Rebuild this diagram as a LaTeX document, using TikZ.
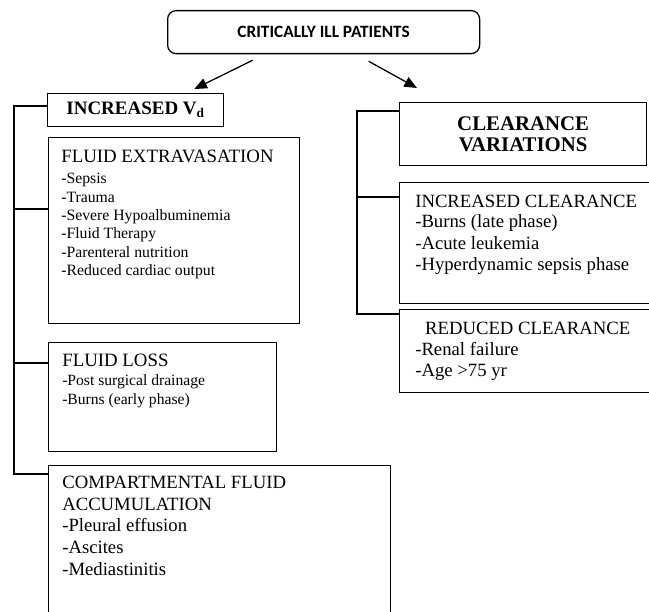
\documentclass[tikz,border=0pt]{standalone}
\usepackage{fontspec}
\setmainfont{Liberation Serif}
\newfontfamily\calfont{Carlito}
\usetikzlibrary{arrows.meta}
\newlength\pxu
\setlength\pxu{0.025cm}
\tikzset{
  box/.style={draw, line width=0.9pt, inner sep=0pt, anchor=north west},
  txt/.style={inner sep=0pt, align=left, anchor=base west},
  conn/.style={line width=0.9pt},
  arr/.style={line width=0.9pt, -{Triangle[length=9pt,width=7.5pt]}},
}

\begin{document}
\begin{tikzpicture}[x=0.025cm, y=-0.025cm]
\useasboundingbox (0,0) rectangle (649,611);

% boxes
\node[box, rounded corners=6pt, minimum width=312\pxu, minimum height=43\pxu,
      font=\calfont\bfseries\fontsize{12.3}{14}\selectfont] (top) at (167,10) {CRITICALLY ILL PATIENTS};
\node[box, minimum width=176\pxu, minimum height=33\pxu,
      font=\bfseries\fontsize{13.5}{15}\selectfont] (incvd) at (47,93) {INCREASED V\textsubscript{d}};
\node[box, minimum width=251\pxu, minimum height=186\pxu] (fext) at (48,137) {};
\node[box, minimum width=228\pxu, minimum height=109\pxu] (floss) at (48,342) {};
\node[box, minimum width=342\pxu, minimum height=200\pxu] (comp) at (48,465) {};
\node[box, minimum width=247\pxu, minimum height=63\pxu, align=center,
      font=\bfseries\fontsize{14.8}{15}\selectfont] (clvar) at (399,102) {CLEARANCE\\VARIATIONS};
\node[box, minimum width=270\pxu, minimum height=121\pxu] (inccl) at (399,182) {};
\node[box, minimum width=270\pxu, minimum height=83\pxu] (redcl) at (399,309) {};

% texts (anchored at the baseline of the last line)
\node[txt, font=\fontsize{11.2}{13.1}\selectfont] (fexttxt) at ([shift={(13,138.7)}]fext.north west)
  {{\fontsize{13.4}{15}\selectfont FLUID EXTRAVASATION}\\[1.8pt]
   -Sepsis\\ -Trauma\\ -Severe Hypoalbuminemia\\ -Fluid Therapy\\
   -Parenteral nutrition\\ -Reduced cardiac output};
\node[txt, font=\fontsize{11.1}{13.5}\selectfont] (flosstxt) at ([shift={(14,62)}]floss.north west)
  {{\fontsize{13.4}{15}\selectfont FLUID LOSS}\\
   -Post surgical drainage\\ -Burns (early phase)};
\node[txt, font=\fontsize{13.3}{15.3}\selectfont] (comptxt) at ([shift={(14,110)}]comp.north west)
  {COMPARTMENTAL FLUID\\ ACCUMULATION\\ -Pleural effusion\\ -Ascites\\ -Mediastinitis};
\node[txt, font=\fontsize{13.3}{15.2}\selectfont] (inccltxt) at ([shift={(16,88.7)}]inccl.north west)
  {INCREASED CLEARANCE\\[-1pt] -Burns (late phase)\\ -Acute leukemia\\ -Hyperdynamic sepsis phase};
\node[txt, font=\fontsize{13.3}{15.1}\selectfont] (redcltxt) at ([shift={(16,67.7)}]redcl.north west)
  {\hspace*{7pt}REDUCED CLEARANCE\\ -Renal failure\\ -Age >75 yr};

% arrows
\draw[arr] ([shift={(-71,6)}]top.south) -- ([shift={(-30,-4)}]incvd.north east);
\draw[arr] ([shift={(45,7)}]top.south) -- ([shift={(18,-14)}]clvar.north west);

% left bracket
\coordinate (lb1) at (14,106);
\coordinate (lb2) at (14,209);
\coordinate (lb3) at (14,363);
\coordinate (lb4) at (14,474);
\draw[conn] (incvd.west |- lb1) -- (lb1) -- (lb4) -- (comp.west |- lb4);
\draw[conn] (lb2) -- (fext.west |- lb2);
\draw[conn] (lb3) -- (floss.west |- lb3);

% right bracket
\coordinate (rb1) at (357,111);
\coordinate (rb2) at (357,197);
\coordinate (rb3) at (357,314);
\draw[conn] (clvar.west |- rb1) -- (rb1) -- (rb3) -- (redcl.west |- rb3);
\draw[conn] (rb2) -- (inccl.west |- rb2);
\end{tikzpicture}
\end{document}
